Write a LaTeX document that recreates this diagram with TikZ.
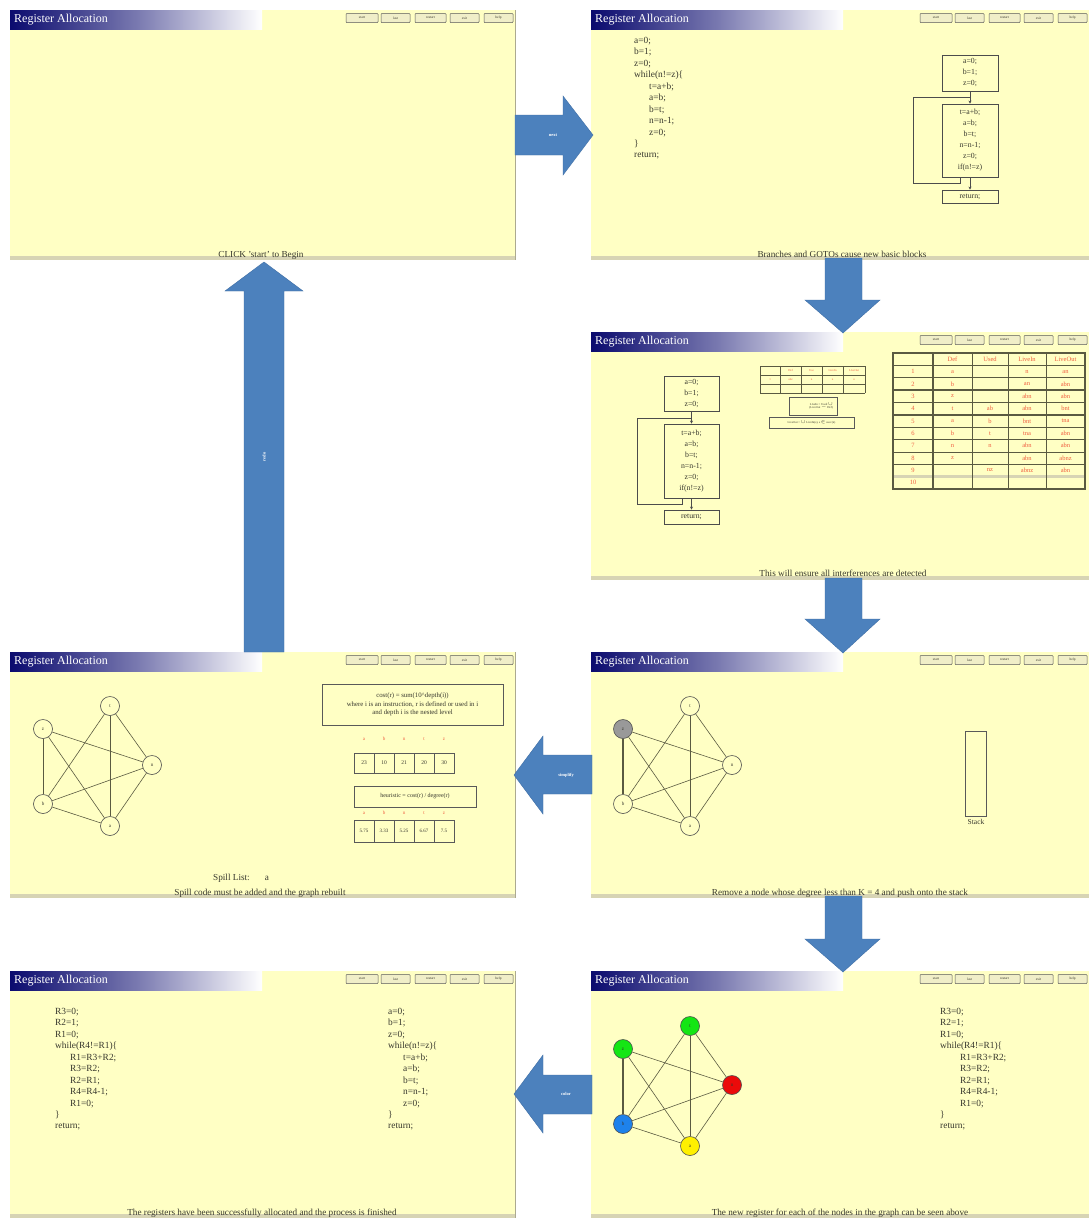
\documentclass[tikz,border=0pt]{standalone}
\usepackage{fontspec}
\setmainfont{Liberation Serif}
\usetikzlibrary{calc,arrows.meta}

\definecolor{slidebg}{RGB}{255,255,196}
\definecolor{navybar}{RGB}{10,10,110}
\definecolor{flowblue}{RGB}{76,129,189}
\definecolor{flowedge}{RGB}{62,110,165}
\definecolor{inkgray}{RGB}{55,55,45}
\definecolor{rulegray}{RGB}{90,90,65}
\definecolor{tabred}{RGB}{240,95,65}
\definecolor{stripgray}{RGB}{215,212,180}
\definecolor{btnfill}{RGB}{240,238,200}
\definecolor{nodegreen}{RGB}{20,230,20}
\definecolor{nodered}{RGB}{235,10,10}
\definecolor{nodeblue}{RGB}{30,130,235}
\definecolor{nodeyellow}{RGB}{255,240,0}

% one slide: prefix, x0, y0, x1, y1
\newcommand\RAslide[5]{%
  \fill[slidebg] (#2,#3) rectangle (#4,#5);
  \fill[stripgray] (#2,#5-4) rectangle (#4,#5);
  \draw[stripgray!80!black, line width=0.8pt] (#4,#3) -- (#4,#5);
  \shade[left color=navybar, right color=white, middle color=navybar!55!white] (#2,#3) rectangle (#2+252,#3+19);
  \node[titletext] (#1title) at (#2+4,#3+10) {Register Allocation};
  \foreach \a/\b/\t [count=\k] in {169/137/start,134/105/last,100/69/restart,65/36/exit,31/2/help}{
    \node[btnbox, minimum width={\a-\b}] (#1btn\k) at ({#4-(\a+\b)/2},#3+8) {\t};
  }
}

% interference graph: prefix, x, y of node z, fills z,t,n,b,a, width of edge z--b
\newcommand\RAgraph[9]{%
  \node[gnode, fill=#4] (#1z) at (#2,#3) {z};
  \node[gnode, fill=#5] (#1t) at (#2+67,#3-23) {t};
  \node[gnode, fill=#6] (#1n) at (#2+109,#3+36) {n};
  \node[gnode, fill=#7] (#1b) at (#2,#3+75) {b};
  \node[gnode, fill=#8] (#1a) at (#2+67,#3+97) {a};
  \draw[gedge] (#1z) -- (#1n);
  \draw[gedge] (#1z) -- (#1a);
  \draw[gedge] (#1t) -- (#1b);
  \draw[gedge] (#1t) -- (#1n);
  \draw[gedge] (#1t) -- (#1a);
  \draw[gedge] (#1b) -- (#1n);
  \draw[gedge] (#1b) -- (#1a);
  \draw[gedge] (#1n) -- (#1a);
  \draw[gedge, line width=#9] (#1z) -- (#1b);
}

\begin{document}
\begin{tikzpicture}[x=1pt,y=-1pt,
  titletext/.style={anchor=west, text=white, inner sep=0pt, font=\fontsize{12}{12}\selectfont},
  btnbox/.style={draw=black!65, line width=0.5pt, fill=btnfill, rounded corners=0.8pt, minimum height=9pt, inner sep=0pt, text=inkgray, font=\fontsize{3.5}{4}\selectfont},
  codetext/.style={anchor=north west, align=left, inner sep=0pt, text=inkgray, font=\fontsize{9.4}{11.45}\selectfont},
  cfgbox/.style={draw=black!70, line width=0.9pt, fill=slidebg, align=center, inner sep=1pt, text=inkgray, font=\fontsize{7.8}{11}\selectfont},
  cfgline/.style={draw=black!70, line width=0.8pt},
  cfgarrow/.style={cfgline, -{Stealth[length=3pt,width=3pt]}},
  gnode/.style={circle, draw=black!70, line width=0.6pt, minimum size=19pt, inner sep=0pt, font=\fontsize{5}{5}\selectfont, text=inkgray},
  gedge/.style={draw=rulegray, line width=0.6pt},
  capt/.style={inner sep=0pt, text=inkgray, font=\fontsize{9.2}{10}\selectfont},
  blockarrow/.style={fill=flowblue, draw=flowedge, line width=0.4pt},
  arrowlabel/.style={text=white, inner sep=0pt, font=\fontsize{4.5}{5}\selectfont\bfseries},
  tabline/.style={draw=rulegray, line width=0.7pt},
  tabtext/.style={text=tabred, inner sep=0pt, font=\fontsize{6.5}{7}\selectfont},
  tinytext/.style={text=tabred, inner sep=0pt, font=\fontsize{3}{3.5}\selectfont},
  framebox/.style={draw=black!65, line width=0.9pt, fill=slidebg},
  smalltext/.style={text=inkgray, inner sep=0pt, align=center, font=\fontsize{6.8}{8.5}\selectfont}
]
\useasboundingbox (0,0) rectangle (1089,1218);
\fill[white] (0,0) rectangle (1089,1218);

% ---------- slides ----------
\RAslide{s1}{10}{10}{515}{260}
\RAslide{s2}{591}{10}{1089}{260}
\RAslide{s3}{591}{332}{1089}{580}
\RAslide{s4}{591}{652}{1089}{898}
\RAslide{s5}{10}{652}{515}{898}
\RAslide{s6}{591}{971}{1089}{1218}
\RAslide{s7}{10}{971}{515}{1218}

% ---------- slide 1 ----------
\node[capt] (cap1) at (261,255) {CLICK 'start' to Begin};

% ---------- slide 2: source and basic blocks ----------
\node[codetext] (code2) at (634,37) {a=0;\\b=1;\\z=0;\\while(n!=z)\{\\\hspace*{15pt}t=a+b;\\\hspace*{15pt}a=b;\\\hspace*{15pt}b=t;\\\hspace*{15pt}n=n-1;\\\hspace*{15pt}z=0;\\\}\\return;};
\node[cfgbox, minimum width=56, minimum height=36] (c2a) at (970,73) {a=0;\\b=1;\\z=0;};
\node[cfgbox, minimum width=56, minimum height=73] (c2b) at (970,140.5) {t=a+b;\\a=b;\\b=t;\\n=n-1;\\z=0;\\if(n!=z)};
\node[cfgbox, minimum width=56, minimum height=13] (c2c) at (970,196.5) {return;};
\coordinate (c2j) at (970,97);
\draw[cfgarrow] (c2a) -- (c2b);
\draw[cfgline] ([xshift=-10pt]c2b.south) -- ++(0,6) -| (913,97) -- (c2j);
\draw[cfgarrow] (c2b) -- (c2c);
\node[capt] (cap2) at (842,254) {Branches and GOTOs cause new basic blocks};

% ---------- slide 3: liveness ----------
\node[cfgbox, minimum width=55, minimum height=35] (c3a) at (691.5,393.5) {a=0;\\b=1;\\z=0;};
\node[cfgbox, minimum width=55, minimum height=74] (c3b) at (691.5,461) {t=a+b;\\a=b;\\b=t;\\n=n-1;\\z=0;\\if(n!=z)};
\node[cfgbox, minimum width=55, minimum height=14] (c3c) at (691.5,517) {return;};
\coordinate (c3j) at (691.5,418);
\draw[cfgarrow] (c3a) -- (c3b);
\draw[cfgline] ([xshift=-9pt]c3b.south) -- ++(0,6) -| (637,418) -- (c3j);
\draw[cfgarrow] (c3b) -- (c3c);

% small per-block table
\foreach \yy in {366,375,384,393} \draw[tabline, line width=0.5pt] (760,\yy) -- (865,\yy);
\foreach \xx in {760,780,801,822,843,865} \draw[tabline, line width=0.5pt] (\xx,366) -- (\xx,393);
\draw[tabline, line width=1pt] (843,366) -- (843,393);
\foreach \t/\xx [count=\k] in {Def/790.5,Use/811.5,LiveIn/832.5,LiveOut/854}
  \node[tinytext] (sth\k) at (\xx,370.5) {\t};
\foreach \t/\xx [count=\k] in {abz/790.5,n/811.5,n/832.5,n/854}
  \node[tinytext] (str\k) at (\xx,379.5) {\t};
\node[tinytext] (strn) at (770,380) {1};
\node[framebox, minimum width=48, minimum height=18, inner sep=0pt] (eqin) at (813,406) {};
\node[tinytext, text=inkgray, align=right, anchor=east] (eqintxt) at (833,406) {LiveIn = Used $\cup$\\(LiveOut $-$ Def)};
\node[framebox, minimum width=85, minimum height=11, inner sep=0pt, tinytext, text=inkgray] (eqout) at (811.5,422.5) {LiveOut = $\cup$ LiveIn(s), s $\in$ succ(n)};

% liveness table
\foreach \i in {0,...,11} \draw[tabline] (893,{353+\i*12.36}) -- (1085,{353+\i*12.36});
\foreach \i in {3,5,7} \draw[tabline, line width=1.6pt] (893,{353+\i*12.36}) -- (1085,{353+\i*12.36});
\fill[stripgray] (893,{353+9.85*12.36}) rectangle (1085,{353+10.1*12.36});
\foreach \xx in {972,1008,1046} \draw[tabline] (\xx,353) -- (\xx,489);
\draw[tabline, line width=1.6pt] (933,353) -- (933,489);
\draw[tabline, line width=1.2pt] (893,353) rectangle (1085,489);
\foreach \t/\xx [count=\k] in {Def/952.5,Used/990,LiveIn/1027,LiveOut/1065.5}
  \node[tabtext] (lth\k) at (\xx,359.2) {\t};
\foreach \r/\d/\u/\li/\lo in {1/a//n/an,2/b//an/abn,3/z//abn/abn,4/t/ab/abn/bnt,5/a/b/bnt/tna,6/b/t/tna/abn,7/n/n/abn/abn,8/z//abn/abnz,9//nz/abnz/abn,10////}{
  \node[tabtext] (lt\r n) at (913,{353+(\r+0.5)*12.36}) {\r};
  \node[tabtext] (lt\r d) at (952.5,{353+(\r+0.5)*12.36}) {\d};
  \node[tabtext] (lt\r u) at (990,{353+(\r+0.5)*12.36}) {\u};
  \node[tabtext] (lt\r i) at (1027,{353+(\r+0.5)*12.36}) {\li};
  \node[tabtext] (lt\r o) at (1065.5,{353+(\r+0.5)*12.36}) {\lo};
}
\node[capt] (cap3) at (843,573) {This will ensure all interferences are detected};

% ---------- slide 4: simplify ----------
\RAgraph{g4}{623}{729}{black!40}{slidebg}{slidebg}{slidebg}{slidebg}{1.5pt}
\node[framebox, minimum width=21, minimum height=85, inner sep=0pt] (stack) at (975.5,773.5) {};
\node[capt, font=\fontsize{7.5}{8}\selectfont] (stacklbl) at (976,822) {Stack};
\node[capt] (cap4) at (840,893) {Remove a node whose degree less than K = 4 and push onto the stack};

% ---------- slide 5: spill ----------
\RAgraph{g5}{43}{729}{slidebg}{slidebg}{slidebg}{slidebg}{slidebg}{0.6pt}
\node[framebox, minimum width=181, minimum height=41, inner sep=0pt] (costbox) at (412.5,704.5) {};
\node[smalltext] (costtxt) at (412.5,704.5) {cost(r) = sum(10\textasciicircum depth(i))\\where i is an instruction, r is defined or used in i\\and depth i is the nested level};
\foreach \t [count=\k] in {a,b,n,t,z}{
  \node[tabtext, font=\fontsize{5}{5}\selectfont] (cl\k) at ({344+20*\k},739) {\t};
  \node[tabtext, font=\fontsize{5}{5}\selectfont] (hl\k) at ({344+20*\k},813) {\t};
}
\foreach \v [count=\k] in {23,10,21,20,30}
  \node[draw=black!65, line width=0.8pt, minimum width=20, minimum height=20, inner sep=0pt, smalltext, font=\fontsize{5.5}{6}\selectfont] (cost\k) at ({344+20*\k},763) {\v};
\node[framebox, minimum width=122, minimum height=21, inner sep=0pt, smalltext, font=\fontsize{6}{7}\selectfont] (heurbox) at (415,796.5) {heuristic = cost(r) / degree(r)};
\foreach \v [count=\k] in {5.75,3.33,5.25,6.67,7.5}
  \node[draw=black!65, line width=0.8pt, minimum width=20, minimum height=22, inner sep=0pt, smalltext, font=\fontsize{5}{6}\selectfont] (heur\k) at ({344+20*\k},831) {\v};
\node[capt, anchor=west] (spilllbl) at (213,878) {Spill List:};
\node[capt] (spillval) at (267,878) {a};
\node[capt] (cap5) at (260,893) {Spill code must be added and the graph rebuilt};

% ---------- slide 6: coloured graph ----------
\RAgraph{g6}{623}{1049}{nodegreen}{nodegreen}{nodered}{nodeblue}{nodeyellow}{1.5pt}
\node[codetext] (code6) at (940,1008) {R3=0;\\R2=1;\\R1=0;\\while(R4!=R1)\{\\\hspace*{20pt}R1=R3+R2;\\\hspace*{20pt}R3=R2;\\\hspace*{20pt}R2=R1;\\\hspace*{20pt}R4=R4-1;\\\hspace*{20pt}R1=0;\\\}\\return;};
\node[capt] (cap6) at (840,1213) {The new register for each of the nodes in the graph can be seen above};

% ---------- slide 7: result ----------
\node[codetext] (code7a) at (55,1008) {R3=0;\\R2=1;\\R1=0;\\while(R4!=R1)\{\\\hspace*{15pt}R1=R3+R2;\\\hspace*{15pt}R3=R2;\\\hspace*{15pt}R2=R1;\\\hspace*{15pt}R4=R4-1;\\\hspace*{15pt}R1=0;\\\}\\return;};
\node[codetext] (code7b) at (388,1008) {a=0;\\b=1;\\z=0;\\while(n!=z)\{\\\hspace*{15pt}t=a+b;\\\hspace*{15pt}a=b;\\\hspace*{15pt}b=t;\\\hspace*{15pt}n=n-1;\\\hspace*{15pt}z=0;\\\}\\return;};
\node[capt] (cap7) at (262,1213) {The registers have been successfully allocated and the process is finished};

% ---------- block arrows between slides ----------
\draw[blockarrow] (515,115) -- (563,115) -- (563,96) -- (593,135) -- (563,175) -- (563,155) -- (515,155) -- cycle;
\node[arrowlabel] (lbl1) at (553,135) {next};
\draw[blockarrow] (825,258) -- (862,258) -- (862,300) -- (880,300) -- (843,333) -- (805,300) -- (825,300) -- cycle;
\draw[blockarrow] (825,578) -- (862,578) -- (862,619) -- (880,619) -- (843,653) -- (805,619) -- (825,619) -- cycle;
\draw[blockarrow] (825,896) -- (862,896) -- (862,939) -- (880,939) -- (843,972) -- (805,939) -- (825,939) -- cycle;
\draw[blockarrow] (592,755) -- (543,755) -- (543,736) -- (514,775) -- (543,814) -- (543,794) -- (592,794) -- cycle;
\node[arrowlabel] (lbl4) at (566,775) {simplify};
\draw[blockarrow] (592,1075) -- (543,1075) -- (543,1055) -- (514,1094) -- (543,1133) -- (543,1114) -- (592,1114) -- cycle;
\node[arrowlabel] (lbl6) at (566,1094) {color};
\draw[blockarrow] (244,652) -- (244,291) -- (225,291) -- (264,262) -- (303,291) -- (284,291) -- (284,652) -- cycle;
\node[arrowlabel, rotate=90] (lbl7) at (264,457) {redo};
\end{tikzpicture}
\end{document}
